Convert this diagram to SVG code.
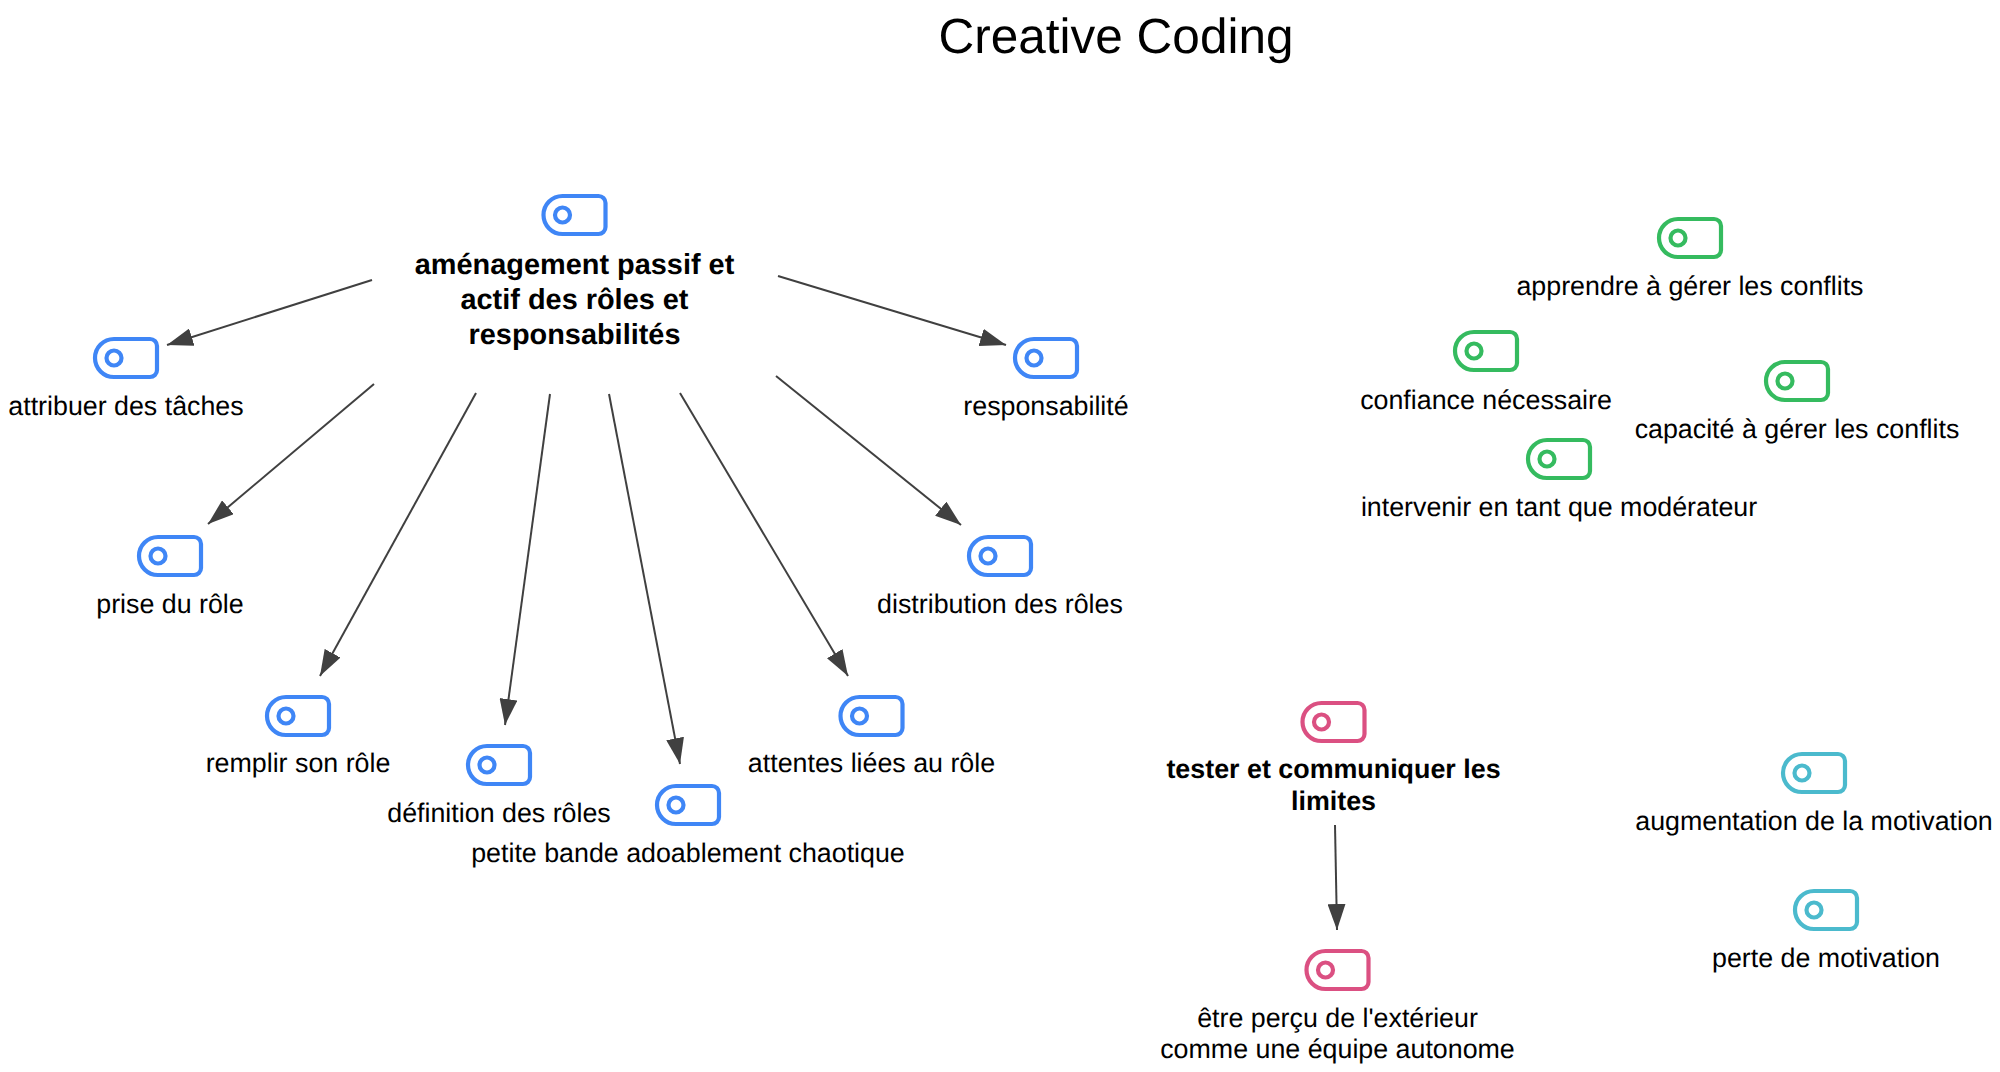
<svg xmlns="http://www.w3.org/2000/svg" width="2000" height="1072" viewBox="0 0 2000 1072">
<style>
text{font-family:"Liberation Sans",Arial,sans-serif;fill:#000;text-anchor:middle;text-rendering:geometricPrecision}
.t{font-size:26.8px}
.b{font-size:26.85px;font-weight:bold}
.m{font-size:28.9px;font-weight:bold}
.title{font-size:49.5px}
.blue{color:#3f86f6}.green{color:#35bb5f}.pink{color:#db5082}.cyan{color:#4bbacd}
.c line{stroke:#404040;stroke-width:2;marker-end:url(#a)}
</style>
<defs>
<marker id="a" markerUnits="userSpaceOnUse" markerWidth="28" markerHeight="18" refX="26" refY="9" orient="auto"><path d="M0 0L26 9L0 18Z" fill="#404040"/></marker>
<g id="i" fill="none" stroke="currentColor" stroke-width="4.2"><path d="M-12 -19H24a7 7 0 0 1 7 7V12a7 7 0 0 1 -7 7H-12a19 19 0 0 1 0 -38Z"/><circle cx="-12" cy="0" r="7.5"/></g>
</defs>
<rect width="2000" height="1072" fill="#fff"/>
<text class="title" x="1116" y="53">Creative Coding</text>
<g class="c" id="connectors">
<line x1="372" y1="280" x2="167" y2="345"/>
<line x1="374" y1="384" x2="208" y2="524"/>
<line x1="476" y1="393" x2="320" y2="676"/>
<line x1="550" y1="394" x2="505" y2="725"/>
<line x1="609" y1="394" x2="680" y2="764"/>
<line x1="680" y1="393" x2="848" y2="676"/>
<line x1="776" y1="376" x2="961" y2="525"/>
<line x1="778" y1="276" x2="1006" y2="345"/>
<line x1="1335" y1="825" x2="1337" y2="930"/>
</g>
<g id="n1" class="blue"><use href="#i" x="574.5" y="215"/><text class="m" x="574.5" y="274">aménagement passif et</text><text class="m" x="574.5" y="309">actif des rôles et</text><text class="m" x="574.5" y="344">responsabilités</text></g>
<g id="n2" class="blue"><use href="#i" x="126" y="358"/><text class="t" x="126" y="415">attribuer des tâches</text></g>
<g id="n3" class="blue"><use href="#i" x="170" y="556"/><text class="t" x="170" y="613">prise du rôle</text></g>
<g id="n4" class="blue"><use href="#i" x="298" y="716"/><text class="t" x="298" y="772">remplir son rôle</text></g>
<g id="n5" class="blue"><use href="#i" x="499" y="765"/><text class="t" x="499" y="822">définition des rôles</text></g>
<g id="n6" class="blue"><use href="#i" x="688" y="805"/><text class="t" x="688" y="862">petite bande adoablement chaotique</text></g>
<g id="n7" class="blue"><use href="#i" x="871.500" y="716"/><text class="t" x="871.500" y="772">attentes liées au rôle</text></g>
<g id="n8" class="blue"><use href="#i" x="1000" y="556"/><text class="t" x="1000" y="613">distribution des rôles</text></g>
<g id="n9" class="blue"><use href="#i" x="1046" y="358"/><text class="t" x="1046" y="415">responsabilité</text></g>
<g id="n10" class="green"><use href="#i" x="1690" y="238"/><text class="t" x="1690" y="295">apprendre à gérer les conflits</text></g>
<g id="n11" class="green"><use href="#i" x="1486" y="351"/><text class="t" x="1486" y="409">confiance nécessaire</text></g>
<g id="n12" class="green"><use href="#i" x="1797" y="381"/><text class="t" x="1797" y="438">capacité à gérer les conflits</text></g>
<g id="n13" class="green"><use href="#i" x="1559" y="459"/><text class="t" x="1559" y="516">intervenir en tant que modérateur</text></g>
<g id="n14" class="pink"><use href="#i" x="1333.500" y="722"/><text class="b" x="1333.500" y="778">tester et communiquer les</text><text class="b" x="1333.500" y="810">limites</text></g>
<g id="n15" class="pink"><use href="#i" x="1337.500" y="970"/><text class="t" x="1337.500" y="1027">être perçu de l'extérieur</text><text class="t" x="1337.500" y="1058">comme une équipe autonome</text></g>
<g id="n16" class="cyan"><use href="#i" x="1814" y="773"/><text class="t" x="1814" y="830">augmentation de la motivation</text></g>
<g id="n17" class="cyan"><use href="#i" x="1826" y="910"/><text class="t" x="1826" y="967">perte de motivation</text></g>
</svg>
